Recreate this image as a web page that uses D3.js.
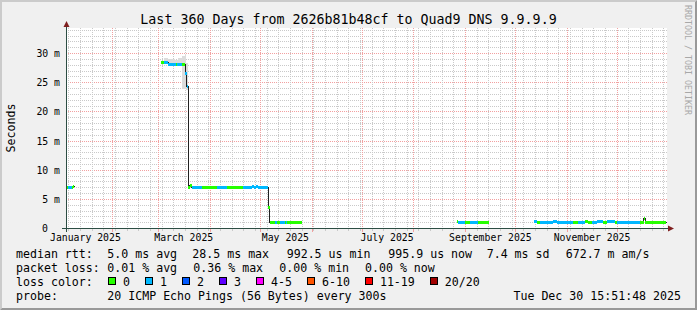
<!DOCTYPE html>
<html>
<head>
<meta charset="utf-8">
<script src="https://cdn.jsdelivr.net/npm/d3@7"></script>
<style>
    html, body { margin: 0; padding: 0; background: #f0f0f0; }
    svg { display: block; font-family: "DejaVu Sans Mono", monospace; }
</style>
</head>
<body>
<svg id="chart" width="697" height="310"></svg>
<script>
// --- data ---
const titleText = 'Last 360 Days from 2626b81b48cf to Quad9 DNS 9.9.9.9';
const endTime = '2025-12-30T15:51:48Z';
const spanDays = 360;
const yMax = 34.3; // ms

const yTicks = [0, 5, 10, 15, 20, 25, 30];
const yTickLabels = ['0', '5 m', '10 m', '15 m', '20 m', '25 m', '30 m'];
const xTickMonths = ['2025-01-01', '2025-03-01', '2025-05-01', '2025-07-01', '2025-09-01', '2025-11-01'];
const xTickLabels = ['January 2025', 'March 2025', 'May 2025', 'July 2025', 'September 2025', 'November 2025'];

// median rtt in ms, stepped; null closes a run of data
const rttTimes = [
    '2025-01-04T16:00', '2025-01-05T12:00', '2025-01-07T18:00', '2025-01-08T12:00', '2025-01-09T04:00',
    '2025-03-02T12:00', '2025-03-04T06:00', '2025-03-06T18:00', '2025-03-11T06:00', '2025-03-12T06:00',
    '2025-03-15T06:00', '2025-03-17T00:00', '2025-03-17T18:00', '2025-03-18T18:00', '2025-03-19T18:00',
    '2025-03-20T18:00', '2025-03-27T06:00', '2025-04-05T00:00', '2025-04-11T06:00', '2025-04-20T12:00',
    '2025-04-25T18:00', '2025-04-27T00:00', '2025-04-28T06:00', '2025-04-29T18:00', '2025-05-05T18:00',
    '2025-05-06T18:00', '2025-05-09T18:00', '2025-05-10T18:00', '2025-05-12T06:00', '2025-05-12T18:00',
    '2025-05-15T18:00', '2025-05-16T06:00', '2025-05-17T06:00', '2025-05-25T18:00',
    '2025-08-26T18:00', '2025-08-27T18:00', '2025-08-31T18:00', '2025-09-03T18:00', '2025-09-08T12:00',
    '2025-09-15T00:00',
    '2025-10-12T00:00', '2025-10-13T18:00', '2025-10-15T18:00', '2025-10-23T18:00', '2025-10-25T18:00',
    '2025-11-04T18:00', '2025-11-07T12:00', '2025-11-11T18:00', '2025-11-13T18:00', '2025-11-16T00:00',
    '2025-11-18T18:00', '2025-11-22T18:00', '2025-11-24T18:00', '2025-11-29T18:00', '2025-11-30T18:00',
    '2025-12-14T18:00', '2025-12-17T00:00', '2025-12-18T00:00', '2025-12-30T15:00'
];
const rttMedian = [
    6.95, 6.95, 6.95, 7.25, null,
    28.5, 28.5, 28.15, 28.15, 28.15,
    28.15, 26.5, 24.3, 6.95, 7.3,
    6.95, 6.95, 6.95, 6.95, 6.95,
    7.2, 6.95, 7.2, 6.95, 3.6,
    1.1, 1.1, 1.0, 1.1, 1.1,
    1.1, 1.0, 1.1, null,
    1.2, 1.0, 1.0, 1.0, 1.0,
    null,
    1.2, 1.0, 1.0, 1.2, 1.0,
    1.0, 1.0, 1.2, 1.0, 1.0,
    1.2, 1.0, 1.2, 1.0, 1.0,
    1.0, 1.7, 1.0, null
];
// lost pings out of 20 for each step
const rttLoss = [
    0, 1, 0, 0, null,
    0, 1, 1, 0, 1,
    0, 1, 1, 0, 0,
    1, 0, 1, 0, 1,
    1, 1, 1, 1, 0,
    0, 1, 0, 0, 1,
    0, 1, 0, null,
    0, 1, 0, 1, 0,
    null,
    1, 0, 1, 1, 1,
    0, 1, 0, 0, 1,
    1, 0, 1, 0, 1,
    0, 0, 0, null
];

// smoke: spread of the single pings (ms)
const smokeTimes = [
    '2025-03-02T12:00', '2025-03-04T00:00', '2025-03-06T18:00', '2025-03-08T00:00', '2025-03-11T00:00',
    '2025-03-12T18:00', '2025-03-15T06:00', '2025-03-16T12:00', '2025-03-17T06:00', '2025-03-18T18:00',
    '2025-04-29T18:00', '2025-05-05T18:00'
];
const smokeLow = [28.3, 28.3, 28.0, 28.0, 28.0, 28.0, 24.0, 24.0, 23.8, null, 6.8, null];
const smokeHigh = [28.7, 29.3, 29.0, 29.1, 28.9, 29.3, 29.5, 30.0, 28.4, null, 7.35, null];

// legend
const rttStats = ['5.0 ms avg', '28.5 ms max', '992.5 us min', '995.9 us now', '7.4 ms sd', '672.7 m am/s'];
const lossStats = ['0.01 % avg', '0.36 % max', '0.00 % min', '0.00 % now'];
const lossBuckets = ['0', '1', '2', '3', '4-5', '6-10', '11-19', '20/20'];
const lossColors = ['#26ff00', '#00b8ff', '#0059ff', '#5e00ff', '#ff00ff', '#ff5500', '#ff0000', '#a10000'];
const probeText = '20 ICMP Echo Pings (56 Bytes) every 300s';
const stampText = 'Tue Dec 30 15:51:48 2025';

// --- drawing ---
const W = 697, H = 310;
const PLOT_L = 66, PLOT_T = 28, PLOT_W = 600, PLOT_H = 200;
const PLOT_B = PLOT_T + PLOT_H;
const GRID_COLOR = '#c9c9c9';
const MGRID_COLOR = '#f2a0a0';

const parseTime = d3.utcParse('%Y-%m-%dT%H:%M');
const end = new Date(endTime);
const start = d3.utcDay.offset(end, -spanDays);

const x = d3.scaleUtc().domain([start, end]).range([PLOT_L + 0.5, PLOT_L + PLOT_W + 0.5]);
const y = d3.scaleLinear().domain([0, yMax]).range([PLOT_B + 0.5, PLOT_T + 0.5]);
const crisp = v => Math.round(v - 0.5) + 0.5;

const svg = d3.select('#chart');

// background and 3d shading of the frame
svg.append('rect').attr('width', W).attr('height', H).attr('fill', '#f0f0f0');
svg.append('path')
    .attr('d', `M0,0H${W}L${W - 2},2H2V${H - 2}L0,${H}Z`)
    .attr('fill', '#cbcbcb');
svg.append('path')
    .attr('d', `M0,${H}H${W}V0L${W - 2},2V${H - 2}H2Z`)
    .attr('fill', '#999999');

// plot canvas
svg.append('rect')
    .attr('x', PLOT_L).attr('y', PLOT_T)
    .attr('width', PLOT_W + 1).attr('height', PLOT_H + 1)
    .attr('fill', '#ffffff');

const grid = svg.append('g')
    .attr('shape-rendering', 'crispEdges')
    .attr('stroke-width', 1)
    .attr('stroke-dasharray', '1,1');

// horizontal grid, 1 ms minor and 5 ms major
const minorY = d3.range(1, Math.floor(yMax) + 1).filter(v => !yTicks.includes(v));
grid.selectAll('.hminor')
    .data(minorY)
    .join('line')
    .attr('class', 'hminor')
    .attr('x1', PLOT_L).attr('x2', PLOT_L + PLOT_W + 1)
    .attr('y1', d => crisp(y(d))).attr('y2', d => crisp(y(d)))
    .attr('stroke', GRID_COLOR);

grid.selectAll('.hmajor')
    .data(yTicks.filter(v => v > 0))
    .join('line')
    .attr('class', 'hmajor')
    .attr('x1', PLOT_L).attr('x2', PLOT_L + PLOT_W + 1)
    .attr('y1', d => crisp(y(d))).attr('y2', d => crisp(y(d)))
    .attr('stroke', MGRID_COLOR);

// vertical grid, weeks minor and months major
const months = d3.utcMonth.range(start, end);
const monthKeys = months.map(d => +d);
const weeks = d3.utcMonday.range(start, end).filter(d => !monthKeys.includes(+d));

grid.selectAll('.vminor')
    .data(weeks)
    .join('line')
    .attr('class', 'vminor')
    .attr('x1', d => crisp(x(d))).attr('x2', d => crisp(x(d)))
    .attr('y1', PLOT_T).attr('y2', PLOT_B)
    .attr('stroke', GRID_COLOR);

grid.selectAll('.vmajor')
    .data(months)
    .join('line')
    .attr('class', 'vmajor')
    .attr('x1', d => crisp(x(d))).attr('x2', d => crisp(x(d)))
    .attr('y1', PLOT_T).attr('y2', PLOT_B)
    .attr('stroke', MGRID_COLOR);

// little solid ticks under the x axis
const ticks = svg.append('g').attr('shape-rendering', 'crispEdges');
ticks.selectAll('.tminor')
    .data(weeks)
    .join('line')
    .attr('x1', d => crisp(x(d))).attr('x2', d => crisp(x(d)))
    .attr('y1', PLOT_B).attr('y2', PLOT_B + 3)
    .attr('stroke', GRID_COLOR);
ticks.selectAll('.tmajor')
    .data(months)
    .join('line')
    .attr('x1', d => crisp(x(d))).attr('x2', d => crisp(x(d)))
    .attr('y1', PLOT_B).attr('y2', PLOT_B + 4)
    .attr('stroke', MGRID_COLOR);

// build step records from the arrays
const steps = [];
for (let i = 0; i < rttTimes.length - 1; i++) {
    if (rttMedian[i] == null) continue;
    steps.push({
        t0: parseTime(rttTimes[i]),
        t1: parseTime(rttTimes[i + 1]),
        v: rttMedian[i],
        loss: rttLoss[i]
    });
}

const smoke = [];
for (let i = 0; i < smokeTimes.length - 1; i++) {
    if (smokeLow[i] == null) continue;
    smoke.push({
        t0: parseTime(smokeTimes[i]),
        t1: parseTime(smokeTimes[i + 1]),
        lo: smokeLow[i],
        hi: smokeHigh[i]
    });
}

// smoke
svg.append('g')
    .attr('shape-rendering', 'crispEdges')
    .selectAll('rect')
    .data(smoke)
    .join('rect')
    .attr('x', d => Math.round(x(d.t0)))
    .attr('width', d => Math.max(1, Math.round(x(d.t1)) - Math.round(x(d.t0))))
    .attr('y', d => Math.round(y(d.hi)))
    .attr('height', d => Math.max(1, Math.round(y(d.lo)) - Math.round(y(d.hi))))
    .attr('fill', '#dcdcdc');

// thin black median line (runs split at the gaps)
const runs = [];
let run = null;
rttTimes.forEach((t, i) => {
    const v = rttMedian[i];
    if (v == null) {
        if (run) {
            run.push({ t: parseTime(t), v: run[run.length - 1].v });
            runs.push(run);
            run = null;
        }
        return;
    }
    if (!run) run = [];
    run.push({ t: parseTime(t), v: v });
});

const medianLine = d3.line()
    .x(d => crisp(x(d.t)))
    .y(d => crisp(y(d.v)))
    .curve(d3.curveStepAfter);

svg.append('g')
    .selectAll('path')
    .data(runs)
    .join('path')
    .attr('d', medianLine)
    .attr('fill', 'none')
    .attr('stroke', '#202020')
    .attr('stroke-width', 1)
    .attr('shape-rendering', 'crispEdges');

// median band coloured by packet loss
svg.append('g')
    .attr('shape-rendering', 'crispEdges')
    .selectAll('rect')
    .data(steps)
    .join('rect')
    .attr('x', d => Math.round(x(d.t0)))
    .attr('width', d => Math.max(1, Math.round(x(d.t1)) - Math.round(x(d.t0))))
    .attr('y', d => Math.round(y(d.v) - 1.5))
    .attr('height', 3)
    .attr('fill', d => lossColors[d.loss]);

// axes
const AXIS_COLOR = '#2c4d43';
const ARROW_COLOR = '#7f1f1f';
const axisY0 = crisp(y(0));
svg.append('line')
    .attr('x1', PLOT_L - 4).attr('x2', PLOT_L + PLOT_W + 3)
    .attr('y1', axisY0).attr('y2', axisY0)
    .attr('stroke', AXIS_COLOR).attr('shape-rendering', 'crispEdges');
svg.append('line')
    .attr('x1', PLOT_L + 0.5).attr('x2', PLOT_L + 0.5)
    .attr('y1', PLOT_B + 4).attr('y2', PLOT_T - 2)
    .attr('stroke', AXIS_COLOR).attr('shape-rendering', 'crispEdges');
svg.append('path')
    .attr('d', `M${PLOT_L + PLOT_W + 2},${axisY0 - 3}L${PLOT_L + PLOT_W + 8},${axisY0}L${PLOT_L + PLOT_W + 2},${axisY0 + 3}Z`)
    .attr('fill', ARROW_COLOR);
svg.append('path')
    .attr('d', `M${PLOT_L + 0.5 - 3},${PLOT_T - 1}L${PLOT_L + 0.5},${PLOT_T - 7}L${PLOT_L + 0.5 + 3},${PLOT_T - 1}Z`)
    .attr('fill', ARROW_COLOR);

// y tick labels
svg.append('g')
    .selectAll('text')
    .data(yTicks)
    .join('text')
    .attr('x', (d, i) => yTickLabels[i].includes('m') ? 60 : 48)
    .attr('y', d => crisp(y(d)))
    .attr('dy', '0.36em')
    .attr('text-anchor', 'end')
    .style('font-size', '9.8px')
    .attr('fill', '#000')
    .text((d, i) => yTickLabels[i]);

// x tick labels, centred half a month after the month start
svg.append('g')
    .selectAll('text')
    .data(xTickMonths)
    .join('text')
    .attr('x', d => x(d3.utcDay.offset(new Date(d + 'T00:00Z'), 15)))
    .attr('y', 241)
    .attr('text-anchor', 'middle')
    .style('font-size', '9.8px')
    .attr('fill', '#000')
    .text((d, i) => xTickLabels[i]);

// title, unit label, watermark
svg.append('text')
    .attr('x', W / 2).attr('y', 24)
    .attr('text-anchor', 'middle')
    .style('font-size', '13.3px')
    .text(titleText);

svg.append('text')
    .attr('transform', `translate(15,${(PLOT_T + PLOT_B) / 2}) rotate(-90)`)
    .attr('text-anchor', 'middle')
    .style('font-size', '11.6px')
    .text('Seconds');

svg.append('text')
    .attr('transform', 'translate(684.5,5) rotate(90)')
    .style('font-size', '8.3px')
    .attr('fill', '#a8a8a8')
    .text('RRDTOOL / TOBI OETIKER');

// legend block
const legend = svg.append('g').style('font-size', '11.6px').attr('fill', '#000');
const ROW = [257.5, 271.5, 285.5, 299.5];
const rttStatX = [107.3, 192.3, 286.7, 388.3, 486.7, 565.7];
const lossStatX = [107.3, 193.3, 279.3, 365];

legend.append('text').attr('x', 16).attr('y', ROW[0]).text('median rtt:');
legend.selectAll('.rtt')
    .data(rttStats)
    .join('text')
    .attr('class', 'rtt')
    .attr('x', (d, i) => rttStatX[i]).attr('y', ROW[0])
    .text(d => d);

legend.append('text').attr('x', 16).attr('y', ROW[1]).text('packet loss:');
legend.selectAll('.loss')
    .data(lossStats)
    .join('text')
    .attr('class', 'loss')
    .attr('x', (d, i) => lossStatX[i]).attr('y', ROW[1])
    .text(d => d);

legend.append('text').attr('x', 16).attr('y', ROW[2]).text('loss color:');
let cursor = 108.3;
lossBuckets.forEach((label, i) => {
    legend.append('rect')
        .attr('x', Math.round(cursor) + 0.5).attr('y', ROW[2] - 8)
        .attr('width', 7).attr('height', 7)
        .attr('fill', lossColors[i])
        .attr('stroke', '#000').attr('stroke-width', 1);
    const t = legend.append('text')
        .attr('x', cursor + 14.8).attr('y', ROW[2])
        .text(label);
    cursor = cursor + 14.8 + t.node().getComputedTextLength() + 15.2;
});

legend.append('text').attr('x', 16).attr('y', ROW[3]).text('probe:');
legend.append('text').attr('x', 107.3).attr('y', ROW[3]).text(probeText);
legend.append('text').attr('x', 681).attr('y', ROW[3]).attr('text-anchor', 'end').text(stampText);
</script>
</body>
</html>
